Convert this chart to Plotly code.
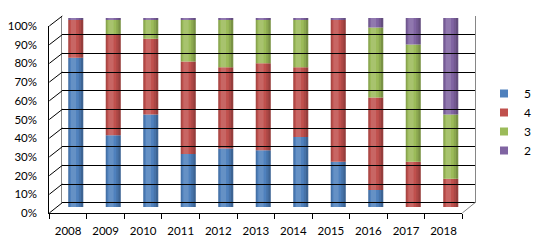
import plotly.graph_objects as go

# ---- data (percent shares) ----
years = ["2008", "2009", "2010", "2011", "2012", "2013", "2014", "2015", "2016", "2017", "2018"]
grade5 = [79, 38, 49, 28, 31, 30, 37, 24, 9, 0, 0]
grade4 = [20, 53, 40, 49, 43, 46, 37, 75, 49, 24, 15]
grade3 = [0, 8, 10, 22, 25, 23, 25, 0, 37, 62, 34]
grade2 = [1, 1, 1, 1, 1, 1, 1, 1, 5, 14, 51]
series_names = ["5", "4", "3", "2"]
series_colors = ["#4F81BD", "#C0504D", "#9BBB59", "#8064A2"]
y_ticks = [0, 10, 20, 30, 40, 50, 60, 70, 80, 90, 100]

W, H = 534, 244
def px(x):
    return x / W
def py(y):
    return 1 - y / H

FONT = "Lato, 'DejaVu Sans', sans-serif"

# geometry of the pseudo-3D box (pixels)
front_left, front_right, front_bottom, front_top = 49.3, 462.3, 213.0, 26.0
back_left, back_right, back_bottom, back_top = 62.3, 475.0, 202.7, 16.0
bar_left, bar_right, bar_bottom, bar_top = 57.0, 469.5, 207.0, 18.0

fig = go.Figure()

# stacked cylinders (explicit bases so that shading overlays stack identically)
all_series = [grade5, grade4, grade3, grade2]
base = [0] * len(years)
# shading layers: (offset, width, colour) relative to a 0.4-wide bar centred on the category
shading = [
    (-0.20, 0.04, "rgba(0,0,0,0.12)"),
    (-0.13, 0.14, "rgba(255,255,255,0.13)"),
    (0.08, 0.06, "rgba(0,0,0,0.10)"),
    (0.14, 0.06, "rgba(0,0,0,0.22)"),
]
for name, vals, col in zip(series_names, all_series, series_colors):
    fig.add_trace(go.Bar(
        x=years, y=vals, base=base, name=name,
        marker=dict(color=col, line=dict(width=0)),
        width=0.4, showlegend=False, xaxis="x", yaxis="y", hoverinfo="x+y+name"))
    for off, w, c in shading:
        fig.add_trace(go.Bar(
            x=years, y=vals, base=base, name=name, offset=off, width=w,
            marker=dict(color=c, line=dict(width=0)),
            showlegend=False, xaxis="x", yaxis="y", hoverinfo="skip"))
    base = [b + v for b, v in zip(base, vals)]

# legend entries
for name, col in zip(series_names, series_colors):
    fig.add_trace(go.Scatter(
        x=[None], y=[None], mode="markers", name=name, legendgroup=name,
        marker=dict(symbol="square", size=8, color=col), xaxis="x", yaxis="y"))

# invisible traces to instantiate helper axes
fig.add_trace(go.Scatter(x=years, y=[None] * len(years), xaxis="x2", yaxis="y2", showlegend=False, hoverinfo="skip"))
fig.add_trace(go.Scatter(x=[0, 1], y=[None, None], xaxis="x3", yaxis="y3", showlegend=False, hoverinfo="skip"))

# side-wall diagonals (tick lines) connecting front axis and back wall
shapes = []
f0, f1 = py(front_bottom), py(front_top)
b0, b1 = py(back_bottom), py(back_top)
for v in y_ticks:
    yf = f0 + v / 100 * (f1 - f0)
    yb = b0 + v / 100 * (b1 - b0)
    shapes.append(dict(type="line", xref="paper", yref="paper", x0=px(front_left), y0=yf,
                       x1=px(back_left), y1=yb, line=dict(color="black", width=1)))
# floor right diagonal
shapes.append(dict(type="line", xref="paper", yref="paper", x0=px(front_right), y0=py(front_bottom),
                   x1=px(back_right), y1=py(back_bottom), line=dict(color="#868686", width=1)))

fig.update_layout(
    width=W, height=H,
    margin=dict(l=0, r=0, t=0, b=0, autoexpand=False),
    paper_bgcolor="white", plot_bgcolor="rgba(0,0,0,0)",
    barmode="overlay",
    font=dict(family=FONT, size=11, color="black"),
    shapes=shapes,
    showlegend=True,
    legend=dict(x=px(484), y=py(79), xanchor="left", yanchor="top", traceorder="normal",
                font=dict(family=FONT, size=12), tracegroupgap=4, itemwidth=30,
                bgcolor="rgba(0,0,0,0)"),
    # bars axes
    xaxis=dict(domain=[px(bar_left), px(bar_right)], range=[-0.5, 10.5], type="category",
               categoryorder="array", categoryarray=years, visible=False, anchor="y"),
    yaxis=dict(domain=[py(bar_bottom), py(bar_top)], range=[0, 100], visible=False, anchor="x"),
    # front axes (labels)
    xaxis2=dict(domain=[px(front_left), px(front_right)], range=[-0.5, 10.5], type="category",
                categoryorder="array", categoryarray=years, anchor="y2",
                showline=True, linecolor="black", linewidth=1, ticks="outside", tickson="boundaries",
                ticklen=5, tickcolor="black", showgrid=False, zeroline=False,
                ticklabelstandoff=7,
                tickfont=dict(family=FONT, size=11.5)),
    yaxis2=dict(domain=[py(front_bottom), py(front_top)], range=[0, 100], anchor="x2",
                tickvals=y_ticks, ticktext=[f"{v}%" for v in y_ticks],
                showline=True, linecolor="black", linewidth=1, ticks="outside", ticklen=9,
                tickcolor="rgba(0,0,0,0)", showgrid=False, zeroline=False,
                tickfont=dict(family=FONT, size=11.5)),
    # back wall
    xaxis3=dict(domain=[px(back_left), px(back_right)], range=[0, 1], anchor="y3",
                showgrid=False, zeroline=False, showticklabels=False, showline=False),
    yaxis3=dict(domain=[py(back_bottom), py(back_top)], range=[0, 100], anchor="x3",
                tickvals=y_ticks, showgrid=True, gridcolor="black", gridwidth=1,
                zeroline=True, zerolinecolor="black", zerolinewidth=1,
                showticklabels=False, showline=True, linecolor="#868686", linewidth=1, mirror=True),
)

fig.write_html("out.html", config={"displayModeBar": False},
               post_script="document.body.style.margin='0';")
